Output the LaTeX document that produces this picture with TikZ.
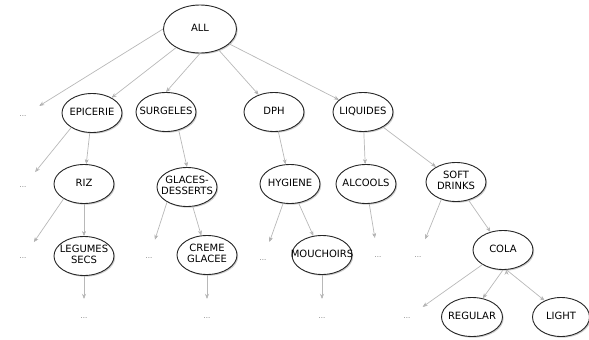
\documentclass[tikz,border=0pt]{standalone}
\usepackage{fontspec}
\setsansfont{DejaVu Sans}
\usetikzlibrary{arrows.meta,shapes.geometric,shadows}
% text may run over the ellipse, as in the original
\newcommand{\ntext}[1]{\makebox[0pt]{\begin{tabular}{@{}c@{}}#1\end{tabular}}}

\begin{document}
\begin{tikzpicture}[x=1pt,y=-1pt,>={Stealth[length=5pt,width=4pt]},
  main node/.style={ellipse,draw=black!85,line width=0.9pt,fill=white,
    minimum width=60pt,minimum height=39pt,inner sep=0pt,
    drop shadow={shadow xshift=1.2pt,shadow yshift=-1.2pt,opacity=0.4},
    font=\sffamily\fontsize{10}{11}\selectfont},
  dots/.style={circle,minimum size=38pt,inner sep=0pt,text=black!55,
    font=\sffamily\fontsize{7}{8}\selectfont}]
  \tikzset{LinkStyle/.style={->,draw=black!28,line width=0.7pt}}
  \useasboundingbox (0,0) rectangle (589,340);

  \node[main node,minimum width=73pt,minimum height=48pt] (ALL) at (200,29) {\ntext{ALL}};
  \node[main node] (EPICERIE) at (92,113) {\ntext{EPICERIE}};
  \node[main node] (SURGELES) at (166,112) {\ntext{SURGELES}};
  \node[main node] (DPH) at (274,112) {\ntext{DPH}};
  \node[main node] (LIQUIDES) at (363,112) {\ntext{LIQUIDES}};
  \node[main node] (RIZ) at (84,184) {\ntext{RIZ}};
  \node[main node] (GLACES) at (187,187) {\ntext{GLACES-\\DESSERTS}};
  \node[main node] (HYGIENE) at (290,184) {\ntext{HYGIENE}};
  \node[main node] (ALCOOLS) at (366,184) {\ntext{ALCOOLS}};
  \node[main node] (SOFT) at (456,182) {\ntext{SOFT\\DRINKS}};
  \node[main node] (LEGUMES) at (84,256) {\ntext{LEGUMES\\SECS}};
  \node[main node] (CREME) at (207,255) {\ntext{CREME\\GLACEE}};
  \node[main node] (MOUCHOIRS) at (322,255) {\ntext{MOUCHOIRS}};
  \node[main node] (COLA) at (503,250) {\ntext{COLA}};
  \node[main node,minimum width=61pt] (REGULAR) at (472,317) {\ntext{REGULAR}};
  \node[main node,minimum width=57pt] (LIGHT) at (561,317) {\ntext{LIGHT}};

  % other branches
  \node[dots] (d1) at (23,116) {...};
  \node[dots] (d2) at (23,187) {...};
  \node[dots] (d3) at (23,258) {...};
  \node[dots] (d4) at (149,258) {...};
  \node[dots] (d5) at (263,260) {...};
  \node[dots] (d6) at (378,257) {...};
  \node[dots] (d7) at (418,257) {...};
  \node[dots] (d8) at (407,318) {...};
  \node[dots] (d9) at (84,318) {...};
  \node[dots] (d10) at (207,318) {...};
  \node[dots] (d11) at (322,318) {...};

  \path[LinkStyle]
    (ALL.west) edge (d1)
    (ALL) edge (EPICERIE)
    (ALL.south) edge (SURGELES.north)
    (ALL) edge (DPH)
    (ALL) edge (LIQUIDES)
    (EPICERIE.215) edge (d2)
    (EPICERIE) edge (RIZ)
    (SURGELES.305) edge (GLACES.north)
    (DPH) edge (HYGIENE)
    (LIQUIDES) edge (ALCOOLS)
    (LIQUIDES) edge (SOFT)
    (RIZ.216) edge (d3)
    (RIZ) edge (LEGUMES)
    (GLACES.217) edge (d4)
    (GLACES) edge (CREME)
    (HYGIENE) edge (d5)
    (HYGIENE) edge (MOUCHOIRS)
    (ALCOOLS) edge (d6)
    (SOFT.230) edge (d7)
    (SOFT) edge (COLA)
    (LEGUMES) edge (d9)
    (CREME) edge (d10)
    (MOUCHOIRS) edge (d11)
    (COLA) edge (d8)
    (COLA.south) edge (REGULAR.60)
    (COLA.280) edge (LIGHT.135);
\end{tikzpicture}
\end{document}
